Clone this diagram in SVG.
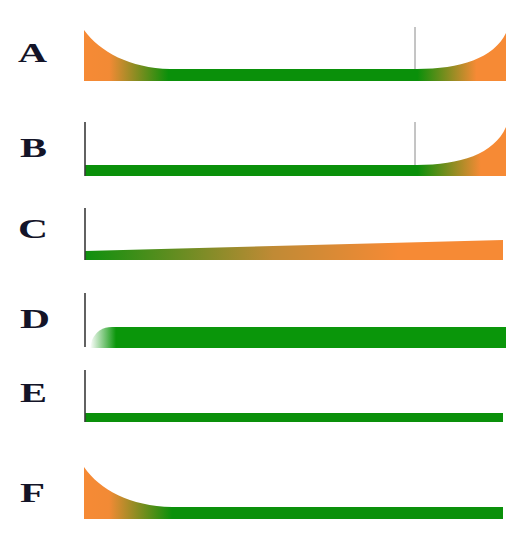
<svg xmlns="http://www.w3.org/2000/svg" width="514" height="539" viewBox="0 0 514 539">
<style>
.lbl{font-family:"Liberation Serif","Times New Roman",serif;font-weight:bold;font-size:28px;fill:#141428}
.axis{stroke:#3a3a3a;stroke-width:1.6;fill:none}
.thin{stroke:#8a8a8a;stroke-width:1;fill:none}
</style>
<defs>
<linearGradient id="gA" gradientUnits="userSpaceOnUse" x1="84" y1="0" x2="506" y2="0">
<stop offset="0" stop-color="#f68a35"/>
<stop offset="0.06" stop-color="#f28a35"/>
<stop offset="0.20" stop-color="#0a900a"/>
<stop offset="0.79" stop-color="#0a900a"/>
<stop offset="0.93" stop-color="#f68a35"/>
<stop offset="1" stop-color="#f68a35"/>
</linearGradient>
<linearGradient id="gB" gradientUnits="userSpaceOnUse" x1="85" y1="0" x2="506" y2="0">
<stop offset="0" stop-color="#0a900a"/>
<stop offset="0.79" stop-color="#0a900a"/>
<stop offset="0.94" stop-color="#f68a35"/>
<stop offset="1" stop-color="#f68a35"/>
</linearGradient>
<linearGradient id="gC" gradientUnits="userSpaceOnUse" x1="85" y1="0" x2="503" y2="0">
<stop offset="0" stop-color="#0e900e"/>
<stop offset="0.45" stop-color="#c08a35"/>
<stop offset="0.75" stop-color="#f68a35"/>
<stop offset="1" stop-color="#f68a35"/>
</linearGradient>
<linearGradient id="gD" gradientUnits="userSpaceOnUse" x1="90" y1="0" x2="116" y2="0">
<stop offset="0" stop-color="#0a960a" stop-opacity="0"/>
<stop offset="1" stop-color="#0a960a"/>
</linearGradient>
<linearGradient id="gF" gradientUnits="userSpaceOnUse" x1="84" y1="0" x2="503" y2="0">
<stop offset="0" stop-color="#f68a35"/>
<stop offset="0.06" stop-color="#f28a35"/>
<stop offset="0.21" stop-color="#0a900a"/>
<stop offset="1" stop-color="#0a900a"/>
</linearGradient>
</defs>

<g id="rowA">
<text class="lbl" x="18" y="62" textLength="29" lengthAdjust="spacingAndGlyphs">A</text>
<path fill="url(#gA)" d="M84,30 C100,52 130,68 170,69 L417,69 C460,69 494,58 506,33 L506,81 L84,81 Z"/>
<line class="thin" x1="415" y1="27" x2="415" y2="69"/>
</g>

<g id="rowB">
<text class="lbl" x="20" y="157" textLength="27" lengthAdjust="spacingAndGlyphs">B</text>
<path fill="url(#gB)" d="M85,165 L417,165 C460,165 494,154 506,127 L506,176 L85,176 Z"/>
<line class="thin" x1="415" y1="122" x2="415" y2="165"/>
<line class="axis" x1="85" y1="122" x2="85" y2="176"/>
</g>

<g id="rowC">
<text class="lbl" x="18" y="238" textLength="30" lengthAdjust="spacingAndGlyphs">C</text>
<path fill="url(#gC)" d="M85,251 L503,240 L503,260 L85,260 Z"/>
<line class="axis" x1="85" y1="208" x2="85" y2="260"/>
</g>

<g id="rowD">
<text class="lbl" x="20" y="328" textLength="30" lengthAdjust="spacingAndGlyphs">D</text>
<path fill="url(#gD)" d="M90,348 L92,340 Q98,327 112,327 L506,327 L506,348 Z"/>
<line class="axis" x1="85" y1="293" x2="85" y2="347"/>
</g>

<g id="rowE">
<text class="lbl" x="20" y="402" textLength="27" lengthAdjust="spacingAndGlyphs">E</text>
<rect x="85" y="413" width="418" height="9" fill="#0a900a"/>
<line class="axis" x1="85" y1="370" x2="85" y2="422"/>
</g>

<g id="rowF">
<text class="lbl" x="20" y="502" textLength="25" lengthAdjust="spacingAndGlyphs">F</text>
<path fill="url(#gF)" d="M84,467 C100,490 130,506 172,507 L503,507 L503,519 L84,519 Z"/>
</g>
</svg>
